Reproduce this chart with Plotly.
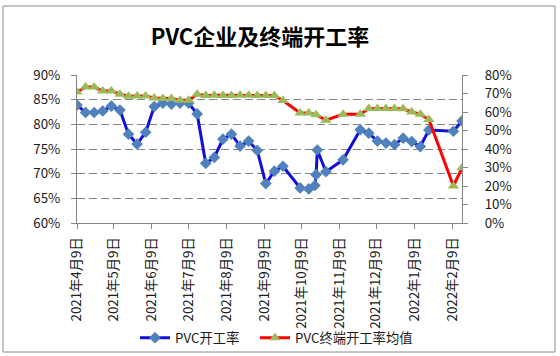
import plotly.graph_objects as go

# ---------------- data ----------------
dates = [
    "2021-04-09", "2021-04-16", "2021-04-23", "2021-04-30", "2021-05-07", "2021-05-14",
    "2021-05-21", "2021-05-28", "2021-06-04", "2021-06-11", "2021-06-18", "2021-06-25",
    "2021-07-02", "2021-07-09", "2021-07-16", "2021-07-23", "2021-07-30", "2021-08-06",
    "2021-08-13", "2021-08-20", "2021-08-27", "2021-09-03", "2021-09-10", "2021-09-17",
    "2021-09-24", "2021-10-08", "2021-10-15", "2021-10-20", "2021-10-21", "2021-10-22",
    "2021-10-29", "2021-11-12", "2021-11-26", "2021-12-03", "2021-12-10", "2021-12-17",
    "2021-12-24", "2021-12-31", "2022-01-07", "2022-01-14", "2022-01-21", "2022-02-10",
    "2022-02-17",
]

pvc_rate = [
    83.9, 82.4, 82.4, 82.7, 83.7, 82.9,
    78.0, 76.0, 78.4, 83.6, 84.3, 84.1,
    84.3, 84.3, 82.1, 72.1, 73.3, 77.0,
    78.0, 75.6, 76.6, 74.7, 68.0, 70.5,
    71.5, 67.1, 66.9, 67.6, 69.8, 74.8,
    70.4, 72.8, 78.9, 78.2, 76.6, 76.2,
    75.9, 77.2, 76.5, 75.5, 78.85, 78.6,
    80.7,
]

terminal_rate = [
    70.8, 73.5, 73.5, 71.4, 71.4, 69.6,
    68.5, 68.7, 68.7, 67.6, 67.3, 67.3,
    66.4, 66.4, 69.6, 68.9, 69.0, 68.9,
    68.9, 69.0, 69.0, 68.9, 68.9, 68.9,
    66.2, 59.5, 59.5, None, 58.5, None,
    55.6, 58.8, 58.8, 61.9, 61.9, 61.9,
    61.9, 61.7, 60.0, 58.8, 56.0, 20.0,
    29.8,
]

tick_dates = [
    "2021-04-09", "2021-05-09", "2021-06-09", "2021-07-09", "2021-08-09", "2021-09-09",
    "2021-10-09", "2021-11-09", "2021-12-09", "2022-01-09", "2022-02-09",
]
tick_labels = [
    "2021年4月9日", "2021年5月9日", "2021年6月9日", "2021年7月9日", "2021年8月9日",
    "2021年9月9日", "2021年10月9日", "2021年11月9日", "2021年12月9日", "2022年1月9日",
    "2022年2月9日",
]

title_text = "PVC企业及终端开工率"
name_pvc = "PVC开工率"
name_term = "PVC终端开工率均值"

# ---------------- style ----------------
W, H = 560, 356
ML, MR, MT, MB = 77, 98, 75, 133
FONT = "Noto Sans CJK SC, Noto Sans, sans-serif"
AX = "#868686"
TXT = "#1a1a1a"
FS = 13.3

fig = go.Figure()
fig.add_trace(go.Scatter(
    x=dates, y=pvc_rate, name=name_pvc, mode="lines+markers",
    line=dict(color="#1010D8", width=3),
    marker=dict(symbol="diamond", size=9, color="#4F81BD"),
    yaxis="y", legend="legend", showlegend=True,
))
fig.add_trace(go.Scatter(
    x=dates, y=terminal_rate, name=name_term, mode="lines+markers",
    connectgaps=True,
    line=dict(color="#FF0000", width=3),
    marker=dict(symbol="triangle-up", size=10, color="#9BBB59"),
    yaxis="y2", legend="legend2", showlegend=True,
))

pw = W - ML - MR
ph = H - MT - MB
fx0, fx1, fy0, fy1 = 3, 555, 6, 352

legend_common = dict(
    orientation="h", xref="container", yref="container",
    xanchor="left", y=1 - 338 / H, yanchor="middle",
    font=dict(family=FONT, size=FS, color=TXT), itemwidth=30,
    bgcolor="rgba(0,0,0,0)",
)

fig.update_layout(
    width=W, height=H, showlegend=True,
    margin=dict(l=ML, r=MR, t=MT, b=MB, autoexpand=False),
    paper_bgcolor="white", plot_bgcolor="white",
    font=dict(family=FONT, size=FS, color=TXT),
    title=dict(text="<b>" + title_text + "</b>", x=260 / W, xref="container", xanchor="center",
               y=1 - 37 / H, yref="container", yanchor="middle",
               font=dict(family=FONT, size=22, color="#000000")),
    xaxis=dict(
        type="date", range=[dates[0], dates[-1]],
        tickmode="array", tickvals=tick_dates, ticktext=tick_labels,
        tickangle=-90, showgrid=False, showline=True, linecolor=AX, linewidth=1,
        ticks="outside", ticklen=5, tickcolor=AX, ticklabelstandoff=3,
        tickfont=dict(family=FONT, size=FS, color=TXT), zeroline=False,
    ),
    yaxis=dict(
        range=[60, 90], dtick=5, ticksuffix="%", showline=True, linecolor=AX, linewidth=1,
        showgrid=True, gridcolor=AX, gridwidth=1, griddash="8px,4px",
        ticks="outside", ticklen=5, tickcolor=AX, ticklabelstandoff=8,
        tickfont=dict(family=FONT, size=FS, color=TXT), zeroline=False,
    ),
    yaxis2=dict(
        range=[0, 80], dtick=10, ticksuffix="%", overlaying="y", side="right",
        showline=True, linecolor=AX, linewidth=1, showgrid=False,
        ticks="outside", ticklen=5, tickcolor=AX, ticklabelstandoff=14,
        tickfont=dict(family=FONT, size=FS, color=TXT), zeroline=False,
    ),
    legend=dict(x=135 / W, **legend_common),
    legend2=dict(x=255 / W, **legend_common),
    shapes=[dict(
        type="rect", xref="paper", yref="paper",
        x0=(fx0 - ML) / pw, x1=(fx1 - ML) / pw,
        y0=(H - MB - fy1) / ph, y1=(H - MB - fy0) / ph,
        line=dict(color="#8c8c8c", width=1), fillcolor="rgba(0,0,0,0)", layer="below",
    )],
)

fig.write_html("out.html", config={"displayModeBar": False},
               post_script="document.body.style.margin='0px';")
